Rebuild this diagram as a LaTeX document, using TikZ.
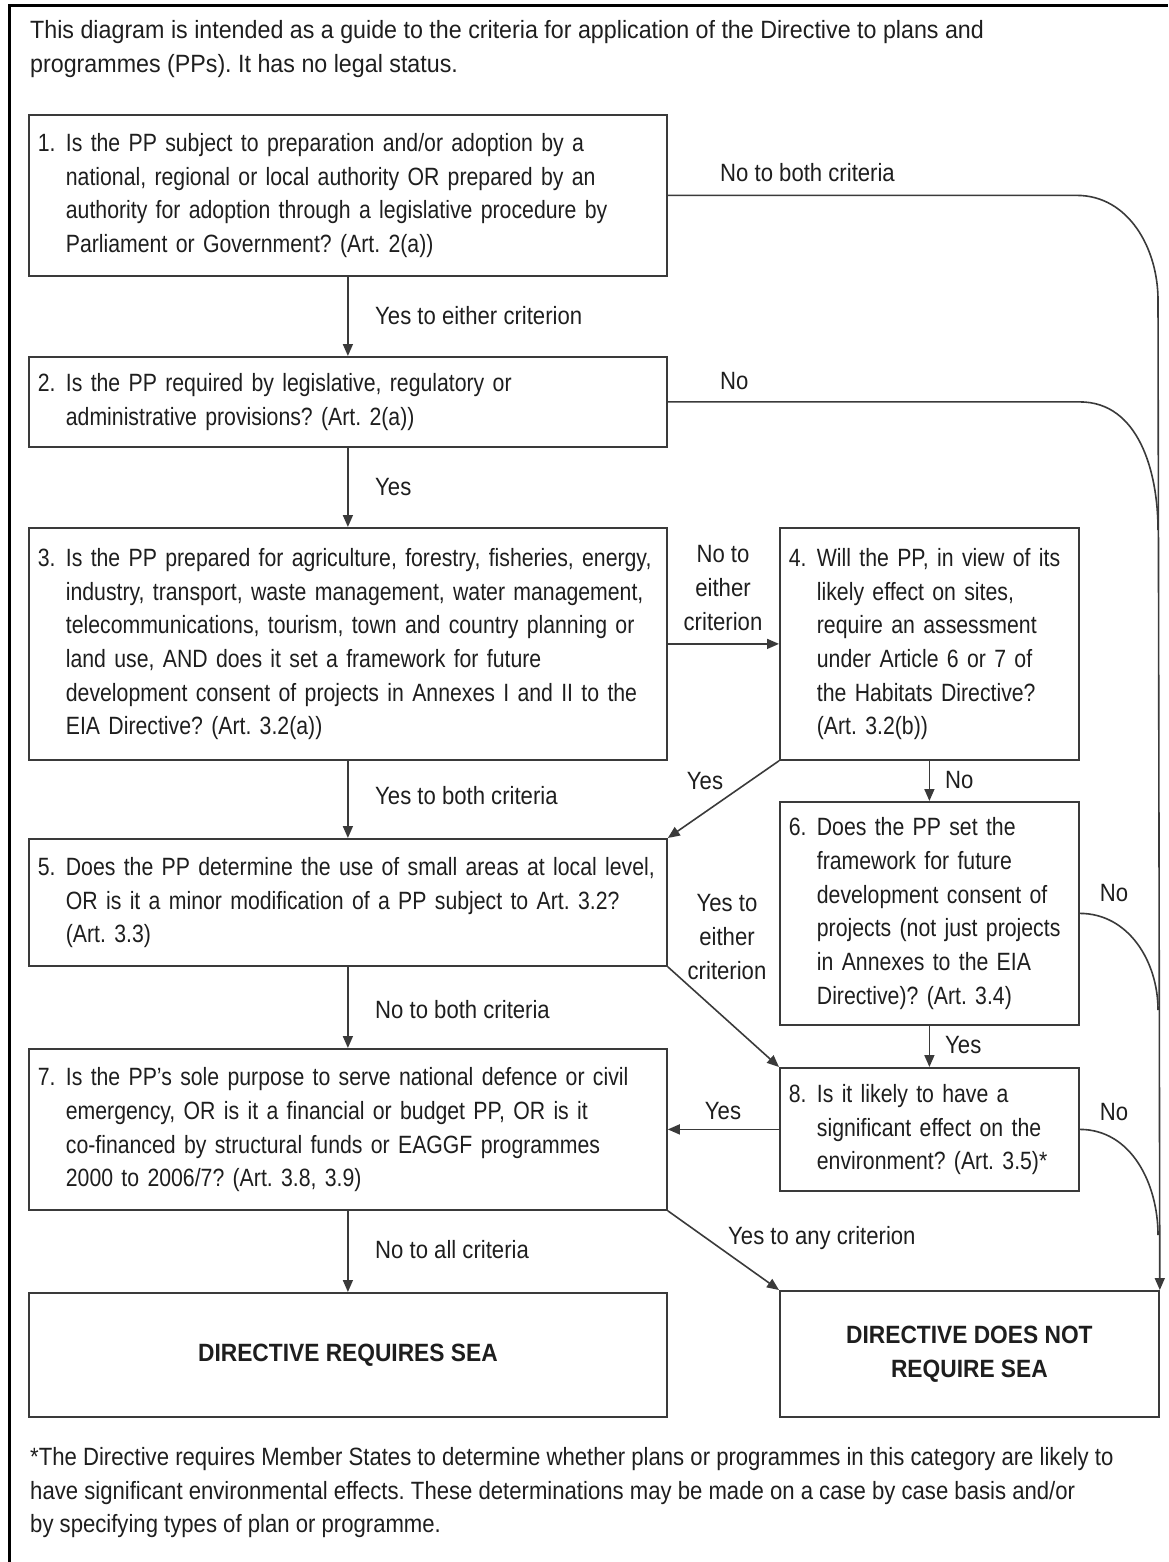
\documentclass[tikz,border=0pt]{standalone}
\usepackage{fontspec}
\setmainfont{Liberation Sans}[FakeStretch=0.85]
\newfontfamily\lblfont{Liberation Sans}[FakeStretch=0.885]
\newfontfamily\headfont{Liberation Sans}[FakeStretch=0.93]
\newfontfamily\verdictfont{Liberation Sans}[FakeStretch=0.91]
\usetikzlibrary{arrows.meta}
\frenchspacing

\definecolor{linegray}{HTML}{3A3A3A}
\definecolor{inkgray}{HTML}{1E1E1E}

% numbered question: number in a hanging column, lines as typed
\newcommand\qnum[2]{\makebox[28pt][l]{#1}\begin{tabular}[t]{@{}l@{}}#2\end{tabular}}

\tikzset{
  qbox/.style={draw=linegray, line width=1.8pt, anchor=north west, align=left,
    inner xsep=9pt, inner ysep=0pt},
  wide/.style={qbox, minimum width=638pt, text width=620pt},
  slim/.style={qbox, minimum width=299pt, text width=281pt},
  verdict/.style={qbox, align=center, font=\verdictfont\fontsize{25}{33.7}\selectfont\bfseries},
  lbl/.style={inner sep=0pt, font=\lblfont\fontsize{25}{33.7}\selectfont},
  flow/.style={->, draw=linegray, line width=1.6pt},
  merge/.style={draw=linegray, line width=1.6pt},
}

\begin{document}
\begin{tikzpicture}[x=1pt, y=-1pt, >={Triangle[length=12pt,width=10pt]},
  font=\fontsize{25}{33.7}\selectfont, text=inkgray]
\useasboundingbox (0,0) rectangle (1168,1562);
\draw[line width=3pt] (9,1562) -- (9,6) -- (1168,6);

\node[lbl, anchor=north west, align=left, font=\headfont\fontsize{25}{34.5}\selectfont] (intro) at (30,20)
  {This diagram is intended as a guide to the criteria for application of the Directive to plans and\\
   programmes (PPs). It has no legal status.};

% questions
\node[wide, minimum height=161pt] (q1) at (28,114) {\qnum{1.}{Is the PP subject to preparation and/or adoption by a\\
  national, regional or local authority OR prepared by an\\
  authority for adoption through a legislative procedure by\\
  Parliament or Government? (Art. 2(a))}};
\node[wide, minimum height=90pt] (q2) at (28,356) {\qnum{2.}{Is the PP required by legislative, regulatory or\\
  administrative provisions? (Art. 2(a))}};
\node[wide, minimum height=232pt] (q3) at (28,527) {\qnum{3.}{Is the PP prepared for agriculture, forestry, fisheries, energy,\\
  industry, transport, waste management, water management,\\
  telecommunications, tourism, town and country planning or\\
  land use, AND does it set a framework for future\\
  development consent of projects in Annexes I and II to the\\
  EIA Directive? (Art. 3.2(a))}};
\node[slim, minimum height=232pt] (q4) at (779,527) {\qnum{4.}{Will the PP, in view of its\\
  likely effect on sites,\\
  require an assessment\\
  under Article 6 or 7 of\\
  the Habitats Directive?\\
  (Art. 3.2(b))}};
\node[wide, minimum height=127pt] (q5) at (28,838) {\qnum{5.}{Does the PP determine the use of small areas at local level,\\
  OR is it a minor modification of a PP subject to Art. 3.2?\\
  (Art. 3.3)}};
\node[slim, minimum height=223pt] (q6) at (779,801) {\qnum{6.}{Does the PP set the\\
  framework for future\\
  development consent of\\
  projects (not just projects\\
  in Annexes to the EIA\\
  Directive)? (Art. 3.4)}};
\node[wide, minimum height=161pt] (q7) at (28,1048) {\qnum{7.}{Is the PP’s sole purpose to serve national defence or civil\\
  emergency, OR is it a financial or budget PP, OR is it\\
  co-financed by structural funds or EAGGF programmes\\
  2000 to 2006/7? (Art. 3.8, 3.9)}};
\node[slim, minimum height=123pt] (q8) at (779,1067) {\qnum{8.}{Is it likely to have a\\
  significant effect on the\\
  environment? (Art. 3.5)*}};

% outcomes
\node[verdict, minimum width=638pt, minimum height=124pt] (req) at (28,1292) {DIRECTIVE REQUIRES SEA};
\node[verdict, minimum width=379pt, minimum height=126pt] (dnr) at (779,1290) {DIRECTIVE DOES NOT\\REQUIRE SEA};

% arrows down the left column
\draw[flow] (q1.south) -- (q2.north);
\draw[flow] (q2.south) -- (q3.north);
\draw[flow] (q3.south) -- (q5.north);
\draw[flow] (q5.south) -- (q7.north);
\draw[flow] (q7.south) -- (req.north);
\draw[flow] (q3.east) -- (q4.west);
\draw[flow] (q4.south west) -- (q5.north east);
\draw[flow] (q4.south) -- (q6.north);
\draw[flow] (q5.south east) -- (q8.north west);
\draw[flow] (q6.south) -- (q8.north);
\draw[flow] (q8.west) -- (q7.east);
\draw[flow] (q7.south east) -- (dnr.north west);

% the "no" line on the right
\coordinate (j1) at (1158,300);
\coordinate (j2) at (1158,530);
\coordinate (j6) at (1158,1010);
\coordinate (j8) at (1158,1235);
\draw[flow] (q1.east) -- ++(409,0) to[out=0, in=90] (j1) -- (dnr.north east);
\draw[merge] (q2.east) -- ++(412,0) to[out=0, in=90] (j2);
\draw[merge] (q6.east) to[out=0, in=90] (j6);
\draw[merge] (q8.east) to[out=0, in=90] (j8);

% labels
\node[lbl, anchor=west] (l12) at (375,316) {Yes to either criterion};
\node[lbl, anchor=west] (l23) at (375,487) {Yes};
\node[lbl, anchor=west] (l35) at (375,796) {Yes to both criteria};
\node[lbl, anchor=west] (l57) at (375,1010) {No to both criteria};
\node[lbl, anchor=west] (l7r) at (375,1250) {No to all criteria};
\node[lbl, align=center] (l34) at (723,588) {No to\\either\\criterion};
\node[lbl] (l45) at (705,781) {Yes};
\node[lbl, anchor=west] (l46) at (945,780) {No};
\node[lbl, align=center] (l58) at (727,937) {Yes to\\either\\criterion};
\node[lbl, anchor=west] (l68) at (945,1045) {Yes};
\node[lbl] (l87) at (723,1111) {Yes};
\node[lbl, anchor=west] (l7d) at (728,1238) {Yes to any criterion};
\node[lbl, anchor=west] (l1n) at (720,173) {No to both criteria};
\node[lbl, anchor=west] (l2n) at (720,381) {No};
\node[lbl] (l6n) at (1114,893) {No};
\node[lbl] (l8n) at (1114,1112) {No};

\node[lbl, anchor=north west, align=left] (note) at (30,1447)
  {*The Directive requires Member States to determine whether plans or programmes in this category are likely to\\
   have significant environmental effects. These determinations may be made on a case by case basis and/or\\
   by specifying types of plan or programme.};
\end{tikzpicture}
\end{document}
